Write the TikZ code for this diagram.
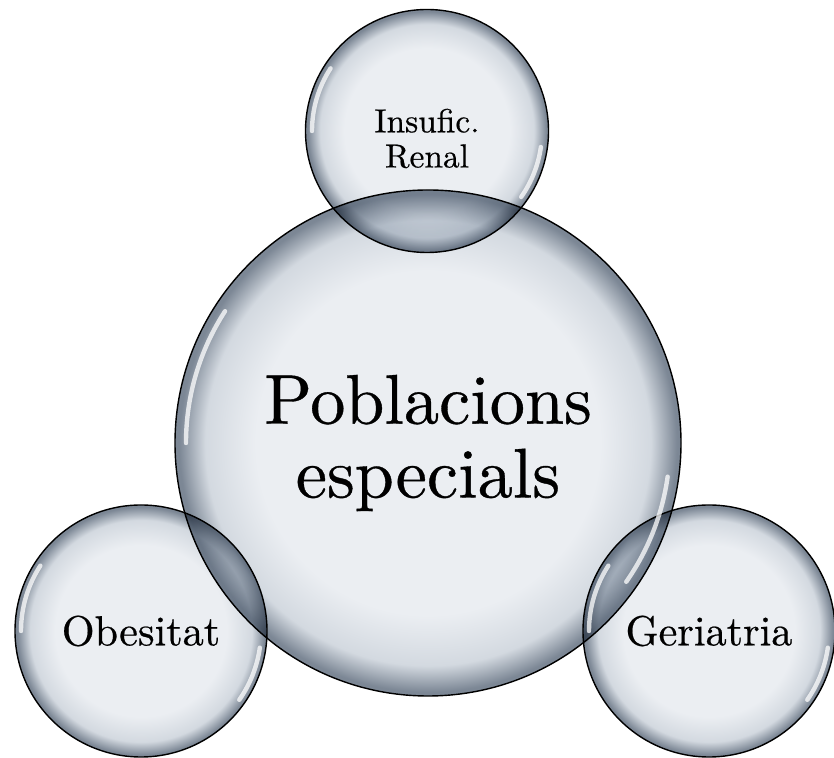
\documentclass[tikz,border=0pt]{standalone}
\usepackage{fontspec}
\setmainfont{lmroman10-regular.otf}[FakeBold=0.5]
\usetikzlibrary{positioning}
\definecolor{bubin}{HTML}{EBEEF2}
\definecolor{bubmid}{HTML}{D3D9E0}
\definecolor{bubrim}{HTML}{7C8795}
\pgfdeclareradialshading{bubble}{\pgfpoint{0bp}{0bp}}{%
    color(0bp)=(bubin); color(17bp)=(bubin); color(22bp)=(bubmid);
    color(24.6bp)=(bubrim); color(25bp)=(bubrim); color(50bp)=(bubrim)}
\newcommand{\glint}[2]{% white streaks inside the rim
    \draw[glint] (#1.center) ++(147:#2) arc[start angle=147, end angle=180, radius=#2];
    \draw[glint] (#1.center) ++(-8:#2) arc[start angle=-8, end angle=-35, radius=#2];
}

\begin{document}
\begin{tikzpicture}[
    % GLOBAL CFG
    x=1cm, y=1cm,
    % Styles
    bubble/.style={% For every bubble
        circle,
        draw=black,
        line width=.8pt,
        shade,
        shading=bubble,
        inner sep=0pt,
        align=center,
    },
    bigbub/.style={% For the main bubble
        bubble,
        minimum size=10.12cm,
        font=\fontsize{40}{42}\selectfont,
    },
    smallbub/.style={% For the outer bubbles
        bubble,
        minimum size=5.04cm,
        font=\fontsize{24}{28}\selectfont,
    },
    topbub/.style={% For the upper bubble
        bubble,
        minimum size=4.86cm,
    },
    toptext/.style={% For the text of the upper bubble
        align=center,
        inner sep=0pt,
        font=\fontsize{19}{20}\selectfont,
    },
    glint/.style={% For the highlights
        white,
        line width=2.5pt,
        line cap=round,
        opacity=.75,
    },
    ]
    \useasboundingbox (0,0) rectangle (16.68,15.16);

    % Draw bubbles
    \begin{scope}[blend mode=multiply]
        \node [bigbub] (pob) at (8.56,6.30) {Poblacions\\especials};
        \node [topbub] (ren) at (8.54,12.54) {};
        \node [smallbub] (obe) at (2.82,2.54) {Obesitat};
        \node [smallbub] (ger) at (14.18,2.54) {Geriatria};
    \end{scope}
    \node [toptext] (rentext) at ([yshift=-.15cm]ren.center) {Insufic.\\Renal};

    % Highlights
    \glint{pob}{4.84}
    \glint{ren}{2.3}
    \glint{obe}{2.4}
    \glint{ger}{2.4}

\end{tikzpicture}
\end{document}
